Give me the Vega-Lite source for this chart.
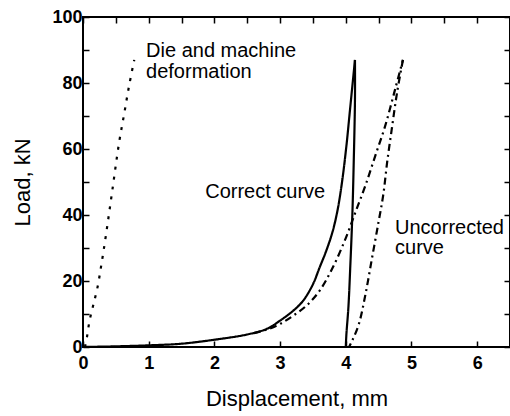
{
  "$schema": "https://vega.github.io/schema/vega-lite/v6.json",
  "autosize": "none",
  "width": 427,
  "height": 330,
  "padding": {"left": 83, "top": 17, "right": 0, "bottom": 69},
  "background": "white",
  "config": {
    "view": {"stroke": "black", "strokeWidth": 2},
    "font": "Liberation Sans",
    "axis": {"grid": false, "domain": false, "labelFlush": false, "tickColor": "black", "tickWidth": 1.5, "labelColor": "black", "titleColor": "black"}
  },
  "datasets": {
    "curves": [
      {"curve": "die", "style": "dot", "i": 0, "x": 0.03, "y": 0},
      {"curve": "die", "style": "dot", "i": 1, "x": 0.06, "y": 3},
      {"curve": "die", "style": "dot", "i": 2, "x": 0.1, "y": 8},
      {"curve": "die", "style": "dot", "i": 3, "x": 0.16, "y": 13},
      {"curve": "die", "style": "dot", "i": 4, "x": 0.22, "y": 18},
      {"curve": "die", "style": "dot", "i": 5, "x": 0.28, "y": 25},
      {"curve": "die", "style": "dot", "i": 6, "x": 0.35, "y": 34},
      {"curve": "die", "style": "dot", "i": 7, "x": 0.45, "y": 48},
      {"curve": "die", "style": "dot", "i": 8, "x": 0.55, "y": 62},
      {"curve": "die", "style": "dot", "i": 9, "x": 0.63, "y": 71},
      {"curve": "die", "style": "dot", "i": 10, "x": 0.7, "y": 79},
      {"curve": "die", "style": "dot", "i": 11, "x": 0.78, "y": 87},

      {"curve": "correct-load", "style": "solid", "i": 0, "x": 0, "y": 0},
      {"curve": "correct-load", "style": "solid", "i": 1, "x": 0.5, "y": 0.2},
      {"curve": "correct-load", "style": "solid", "i": 2, "x": 1, "y": 0.5},
      {"curve": "correct-load", "style": "solid", "i": 3, "x": 1.5, "y": 1},
      {"curve": "correct-load", "style": "solid", "i": 4, "x": 2, "y": 2.2},
      {"curve": "correct-load", "style": "solid", "i": 5, "x": 2.5, "y": 3.8},
      {"curve": "correct-load", "style": "solid", "i": 6, "x": 2.8, "y": 5.5},
      {"curve": "correct-load", "style": "solid", "i": 7, "x": 3.0, "y": 8},
      {"curve": "correct-load", "style": "solid", "i": 8, "x": 3.2, "y": 11},
      {"curve": "correct-load", "style": "solid", "i": 9, "x": 3.35, "y": 14},
      {"curve": "correct-load", "style": "solid", "i": 10, "x": 3.5, "y": 19},
      {"curve": "correct-load", "style": "solid", "i": 11, "x": 3.6, "y": 24},
      {"curve": "correct-load", "style": "solid", "i": 12, "x": 3.7, "y": 29},
      {"curve": "correct-load", "style": "solid", "i": 13, "x": 3.8, "y": 35},
      {"curve": "correct-load", "style": "solid", "i": 14, "x": 3.88, "y": 42},
      {"curve": "correct-load", "style": "solid", "i": 15, "x": 3.95, "y": 51},
      {"curve": "correct-load", "style": "solid", "i": 16, "x": 4.01, "y": 61},
      {"curve": "correct-load", "style": "solid", "i": 17, "x": 4.06, "y": 71},
      {"curve": "correct-load", "style": "solid", "i": 18, "x": 4.1, "y": 79},
      {"curve": "correct-load", "style": "solid", "i": 19, "x": 4.14, "y": 87},
      {"curve": "correct-unload", "style": "solid", "i": 0, "x": 4.14, "y": 87},
      {"curve": "correct-unload", "style": "solid", "i": 1, "x": 4.14, "y": 75},
      {"curve": "correct-unload", "style": "solid", "i": 2, "x": 4.12, "y": 55},
      {"curve": "correct-unload", "style": "solid", "i": 3, "x": 4.1, "y": 40},
      {"curve": "correct-unload", "style": "solid", "i": 4, "x": 4.07, "y": 25},
      {"curve": "correct-unload", "style": "solid", "i": 5, "x": 4.04, "y": 12},
      {"curve": "correct-unload", "style": "solid", "i": 6, "x": 4.01, "y": 4},
      {"curve": "correct-unload", "style": "solid", "i": 7, "x": 4.0, "y": 0},

      {"curve": "uncorr-load", "style": "dashdot", "i": 0, "x": 2.6, "y": 4.2},
      {"curve": "uncorr-load", "style": "dashdot", "i": 1, "x": 2.8, "y": 5.3},
      {"curve": "uncorr-load", "style": "dashdot", "i": 2, "x": 3.0, "y": 7},
      {"curve": "uncorr-load", "style": "dashdot", "i": 3, "x": 3.2, "y": 9.5},
      {"curve": "uncorr-load", "style": "dashdot", "i": 4, "x": 3.4, "y": 12.5},
      {"curve": "uncorr-load", "style": "dashdot", "i": 5, "x": 3.6, "y": 17},
      {"curve": "uncorr-load", "style": "dashdot", "i": 6, "x": 3.8, "y": 24},
      {"curve": "uncorr-load", "style": "dashdot", "i": 7, "x": 4.0, "y": 33},
      {"curve": "uncorr-load", "style": "dashdot", "i": 8, "x": 4.15, "y": 41},
      {"curve": "uncorr-load", "style": "dashdot", "i": 9, "x": 4.3, "y": 49},
      {"curve": "uncorr-load", "style": "dashdot", "i": 10, "x": 4.45, "y": 58},
      {"curve": "uncorr-load", "style": "dashdot", "i": 11, "x": 4.6, "y": 67},
      {"curve": "uncorr-load", "style": "dashdot", "i": 12, "x": 4.75, "y": 78},
      {"curve": "uncorr-load", "style": "dashdot", "i": 13, "x": 4.87, "y": 87},
      {"curve": "uncorr-unload", "style": "dashdot", "i": 0, "x": 4.87, "y": 87},
      {"curve": "uncorr-unload", "style": "dashdot", "i": 1, "x": 4.78, "y": 77},
      {"curve": "uncorr-unload", "style": "dashdot", "i": 2, "x": 4.7, "y": 66},
      {"curve": "uncorr-unload", "style": "dashdot", "i": 3, "x": 4.63, "y": 56},
      {"curve": "uncorr-unload", "style": "dashdot", "i": 4, "x": 4.57, "y": 46},
      {"curve": "uncorr-unload", "style": "dashdot", "i": 5, "x": 4.5, "y": 38},
      {"curve": "uncorr-unload", "style": "dashdot", "i": 6, "x": 4.4, "y": 27},
      {"curve": "uncorr-unload", "style": "dashdot", "i": 7, "x": 4.3, "y": 16},
      {"curve": "uncorr-unload", "style": "dashdot", "i": 8, "x": 4.2, "y": 7},
      {"curve": "uncorr-unload", "style": "dashdot", "i": 9, "x": 4.1, "y": 2},
      {"curve": "uncorr-unload", "style": "dashdot", "i": 10, "x": 4.05, "y": 0}
    ],
    "labels": [
      {"x": 0.96, "y": 89.7, "text": "Die and machine"},
      {"x": 0.96, "y": 83.3, "text": "deformation"},
      {"x": 1.86, "y": 47, "text": "Correct curve"},
      {"x": 4.75, "y": 36, "text": "Uncorrected"},
      {"x": 4.75, "y": 30, "text": "curve"}
    ]
  },
  "resolve": {"axis": {"x": "independent", "y": "independent"}},
  "layer": [
    {
      "data": {"name": "curves"},
      "mark": {"type": "line", "color": "black", "strokeWidth": 2.2, "clip": true, "interpolate": "catmull-rom"},
      "encoding": {
        "x": {
          "field": "x", "type": "quantitative",
          "scale": {"domain": [0, 6.5], "nice": false, "zero": false},
          "axis": {
            "orient": "bottom",
            "values": [0, 0.5, 1, 1.5, 2, 2.5, 3, 3.5, 4, 4.5, 5, 5.5, 6, 6.5],
            "format": "d",
            "labelExpr": "datum.value % 1 === 0 ? datum.label : ''",
            "tickSize": -6, "labelPadding": 13,
            "labelFont": "Liberation Sans", "labelFontSize": 18, "labelFontWeight": "bold",
            "title": "Displacement, mm", "titleFont": "Liberation Sans", "titleFontSize": 22, "titleFontWeight": "normal", "titlePadding": 16
          }
        },
        "y": {
          "field": "y", "type": "quantitative",
          "scale": {"domain": [0, 100], "nice": false, "zero": false},
          "axis": {
            "orient": "left",
            "values": [0, 10, 20, 30, 40, 50, 60, 70, 80, 90, 100],
            "format": "d",
            "labelExpr": "datum.value % 20 === 0 ? datum.label : ''",
            "tickSize": -6, "labelPadding": 7,
            "labelFont": "Liberation Sans", "labelFontSize": 18, "labelFontWeight": "bold",
            "title": "Load, kN", "titleFont": "Liberation Sans", "titleFontSize": 22, "titleFontWeight": "normal", "titlePadding": 17
          }
        },
        "detail": {"field": "curve"},
        "order": {"field": "i", "type": "quantitative"},
        "strokeDash": {
          "field": "style", "type": "nominal",
          "scale": {"domain": ["solid", "dot", "dashdot"], "range": [[1, 0], [3, 7], [7, 4, 2, 4]]},
          "legend": null
        }
      }
    },
    {
      "data": {"name": "labels"},
      "mark": {"type": "text", "align": "left", "baseline": "middle", "font": "Liberation Sans", "fontSize": 20, "color": "black"},
      "encoding": {
        "x": {
          "field": "x", "type": "quantitative",
          "axis": {
            "orient": "top",
            "values": [0, 0.5, 1, 1.5, 2, 2.5, 3, 3.5, 4, 4.5, 5, 5.5, 6, 6.5],
            "labels": false, "tickSize": -6, "title": null
          }
        },
        "y": {
          "field": "y", "type": "quantitative",
          "axis": {
            "orient": "right",
            "values": [0, 10, 20, 30, 40, 50, 60, 70, 80, 90, 100],
            "labels": false, "tickSize": -6, "title": null
          }
        },
        "text": {"field": "text"}
      }
    }
  ]
}
